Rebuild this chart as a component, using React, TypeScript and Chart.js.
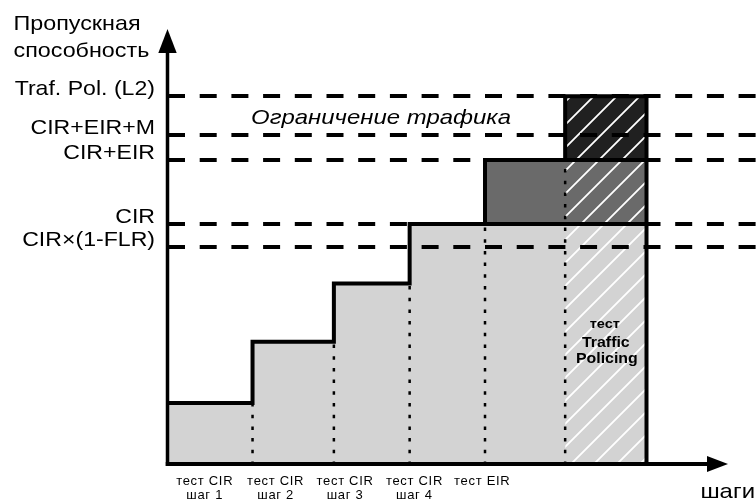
import React, { useEffect, useRef } from 'react';
import { Chart, registerables } from 'chart.js';

Chart.register(...registerables);

// x positions (in "step" units) where each test step begins; last value = end of last step
const stepEdges = [0, 1.06, 2.08, 3.03, 3.975, 4.98, 6];
// throughput of the light-grey area per step
const lightTops = [25.7, 51.2, 75.3, 100, 100, 100];
// highest throughput reached in each step (outline)
const stepTops = [25.7, 51.2, 75.3, 100, 126.6, 153.1];

const CIR = 100;
const CIR_FLR = 90.6;
const CIR_EIR = 126.6;
const CIR_EIR_M = 136.8;
const TRAF_POL = 153.1;

const levelValues = [CIR_FLR, CIR, CIR_EIR, CIR_EIR_M, TRAF_POL];
const levelLabels = ['CIR×(1-FLR)', 'CIR', 'CIR+EIR', 'CIR+EIR+M', 'Traf. Pol. (L2)'];

const stepLabels = [
  ['тест CIR', 'шаг 1'],
  ['тест CIR', 'шаг 2'],
  ['тест CIR', 'шаг 3'],
  ['тест CIR', 'шаг 4'],
  ['тест EIR'],
];
const stepLabelPos = [0.46, 1.35, 2.22, 3.09, 3.94];

const X_MAX = 7.373;
const Y_MAX = 181;

const FONT = "'Liberation Sans', Arial, sans-serif";

function makeHatch(): CanvasPattern | string {
  const s = 23;
  const c = document.createElement('canvas');
  c.width = s;
  c.height = s;
  const g = c.getContext('2d');
  if (!g) return '#fff';
  g.strokeStyle = '#ffffff';
  g.lineWidth = 1.8;
  g.beginPath();
  for (const k of [-s, 0, s]) {
    g.moveTo(k - 2, s + 2);
    g.lineTo(k + s + 2, -2);
  }
  g.stroke();
  return g.createPattern(c, 'repeat') || '#fff';
}

function sText(c: any, t: string, x: number, y: number, align: string, sx: number) {
  c.save();
  c.translate(x, y);
  c.scale(sx, 1);
  c.textAlign = align;
  c.fillText(t, 0, 0);
  c.restore();
}

const decoPlugin = {
  id: 'deco',
  beforeDraw(chart: any) {
    const ys: any = chart.scales.y;
    if (ys && !ys.__ls) {
      const orig = ys.drawLabels.bind(ys);
      ys.drawLabels = (ca: any) => {
        const c: any = ys.ctx;
        const ax = ys.right - ys.options.ticks.padding;
        c.save();
        c.translate(ax, 0);
        c.scale(1.1, 1);
        c.translate(-ax, 0);
        orig(ca);
        c.restore();
      };
      ys.__ls = true;
    }
    const xs: any = chart.scales.x;
    if (xs && !xs.__ls) {
      const orig = xs.drawLabels.bind(xs);
      xs.drawLabels = (ca: any) => {
        const c: any = xs.ctx;
        c.save();
        c.letterSpacing = '0.7px';
        orig(ca);
        c.restore();
      };
      xs.__ls = true;
    }
  },
  afterDraw(chart: any) {
    const { ctx, chartArea: ca, scales } = chart;
    const xs = scales.x;
    const ys = scales.y;
    const x0 = xs.getPixelForValue(0) - 0.5;
    const y0 = ys.getPixelForValue(0) - 1;
    const c: any = ctx;
    c.save();
    c.fillStyle = '#000';
    c.strokeStyle = '#000';
    c.lineCap = 'butt';
    // y axis
    c.lineWidth = 3.5;
    c.beginPath();
    c.moveTo(x0, y0 + 2);
    c.lineTo(x0, ca.top + 22);
    c.stroke();
    c.beginPath();
    c.moveTo(x0, ca.top);
    c.lineTo(x0 + 9.2, ca.top + 24);
    c.lineTo(x0 - 9.2, ca.top + 24);
    c.closePath();
    c.fill();
    // x axis
    const tipX = ca.right - 28;
    c.lineWidth = 4;
    c.beginPath();
    c.moveTo(x0 - 1.75, y0);
    c.lineTo(tipX - 18, y0);
    c.stroke();
    c.beginPath();
    c.moveTo(tipX, y0);
    c.lineTo(tipX - 21, y0 - 8);
    c.lineTo(tipX - 21, y0 + 8);
    c.closePath();
    c.fill();

    c.textBaseline = 'alphabetic';
    // axis titles
    c.font = `21px ${FONT}`;
    sText(c, 'Пропускная', 13.5, ca.top + 0.5, 'left', 1.11);
    sText(c, 'способность', 13.5, ca.top + 28, 'left', 1.11);
    sText(c, 'шаги', ca.right - 1, y0 + 34, 'right', 1.14);

    // region label
    c.font = `italic 21px ${FONT}`;
    sText(
      c,
      'Ограничение трафика',
      xs.getPixelForValue(stepEdges[1]) - 1.5,
      ys.getPixelForValue((CIR_EIR_M + TRAF_POL) / 2) + 8,
      'left',
      1.14
    );

    // traffic policing label
    const cx = xs.getPixelForValue((stepEdges[5] + stepEdges[6]) / 2);
    c.font = `bold 13px ${FONT}`;
    sText(c, 'тест', cx - 1, y0 - 135.7, 'center', 1.12);
    c.font = `bold 15px ${FONT}`;
    sText(c, 'Traffic', cx, y0 - 117, 'center', 1.06);
    sText(c, 'Policing', cx + 1, y0 - 101.5, 'center', 1.06);
    c.restore();
  },
};

export default function App() {
  const ref = useRef<HTMLCanvasElement | null>(null);

  useEffect(() => {
    if (!ref.current) return;
    const hatch = makeHatch();
    const n = lightTops.length;

    const lightData = stepEdges.map((x, i) => ({ x, y: lightTops[Math.min(i, n - 1)] }));
    const eirData = [
      { x: stepEdges[4], y: CIR_EIR },
      { x: stepEdges[6], y: CIR_EIR },
    ];
    const tpData = [
      { x: stepEdges[5], y: TRAF_POL },
      { x: stepEdges[6], y: TRAF_POL },
    ];
    const outlineData = [
      ...stepEdges.map((x, i) => ({ x, y: stepTops[Math.min(i, n - 1)] })),
      { x: stepEdges[n], y: 0 },
    ];
    const cirLine = [
      { x: stepEdges[4], y: CIR },
      { x: stepEdges[6], y: CIR },
    ];
    const eirLine = [
      { x: stepEdges[5], y: CIR_EIR },
      { x: stepEdges[6], y: CIR_EIR },
    ];
    const dotted: any[] = [];
    for (let i = 1; i < n; i++) {
      dotted.push({ x: stepEdges[i], y: 0 });
      dotted.push({ x: stepEdges[i], y: stepTops[i - 1] });
      dotted.push({ x: stepEdges[i], y: null });
    }

    const fillDs = (data: any, bg: any, fill: any, order: number) => ({
      data,
      backgroundColor: bg,
      borderColor: 'rgba(0,0,0,0)',
      borderWidth: 0,
      pointRadius: 0,
      stepped: true,
      fill,
      order,
    });
    const lineDs = (data: any, order: number, extra: any = {}) => ({
      data,
      borderColor: '#000',
      borderWidth: 4,
      pointRadius: 0,
      stepped: true,
      fill: false,
      order,
      borderJoinStyle: 'miter',
      ...extra,
    });

    const chart = new Chart(ref.current, {
      type: 'line',
      data: {
        datasets: [
          fillDs(lightData, '#d3d3d3', 'origin', 10),
          fillDs(eirData, '#6a6a6a', { value: CIR }, 9),
          fillDs(tpData, '#202020', { value: CIR_EIR }, 8),
          fillDs(tpData, hatch, 'origin', 7),
          lineDs(dotted, 6, { stepped: false, borderWidth: 2.5, borderDash: [3.5, 8.2], spanGaps: false }),
          lineDs(cirLine, 5),
          lineDs(eirLine, 4),
          lineDs(outlineData, 3),
        ] as any,
      },
      options: {
        responsive: false,
        animation: false,
        events: [],
        layout: { padding: { top: 29, left: 0, right: 0, bottom: 0 } },
        plugins: {
          legend: { display: false },
          tooltip: { enabled: false },
          title: { display: false },
        },
        scales: {
          x: {
            type: 'linear',
            min: 0,
            max: X_MAX,
            afterBuildTicks: (s: any) => {
              s.ticks = stepLabelPos.map((v) => ({ value: v }));
            },
            afterFit: (s: any) => {
              s.height = 39;
            },
            ticks: {
              autoSkip: false,
              maxRotation: 0,
              minRotation: 0,
              padding: 9.5,
              color: '#000',
              font: { family: FONT, size: 13, lineHeight: '14px' },
              callback: (_v: any, i: number) => stepLabels[i],
            },
            grid: { display: false, drawTicks: false },
            border: { display: false },
          },
          y: {
            type: 'linear',
            min: 0,
            max: Y_MAX,
            afterBuildTicks: (s: any) => {
              s.ticks = levelValues.map((v) => ({ value: v }));
            },
            afterFit: (s: any) => {
              s.width = 168;
            },
            ticks: {
              padding: 13,
              color: '#000',
              font: { family: FONT, size: 21, lineHeight: '14px' },
              callback: (_v: any, i: number) => [levelLabels[i], ''],
            },
            grid: { color: '#000', lineWidth: 4, drawTicks: false, z: 1 },
            border: { display: false, dash: [17, 14.7] },
          },
        },
      } as any,
      plugins: [decoPlugin],
    });
    return () => chart.destroy();
  }, []);

  return (
    <div style={{ position: 'fixed', left: 0, top: 0, width: 756, height: 504, background: '#fff' }}>
      <canvas ref={ref} width={756} height={504} style={{ display: 'block', width: 756, height: 504 }} />
    </div>
  );
}
